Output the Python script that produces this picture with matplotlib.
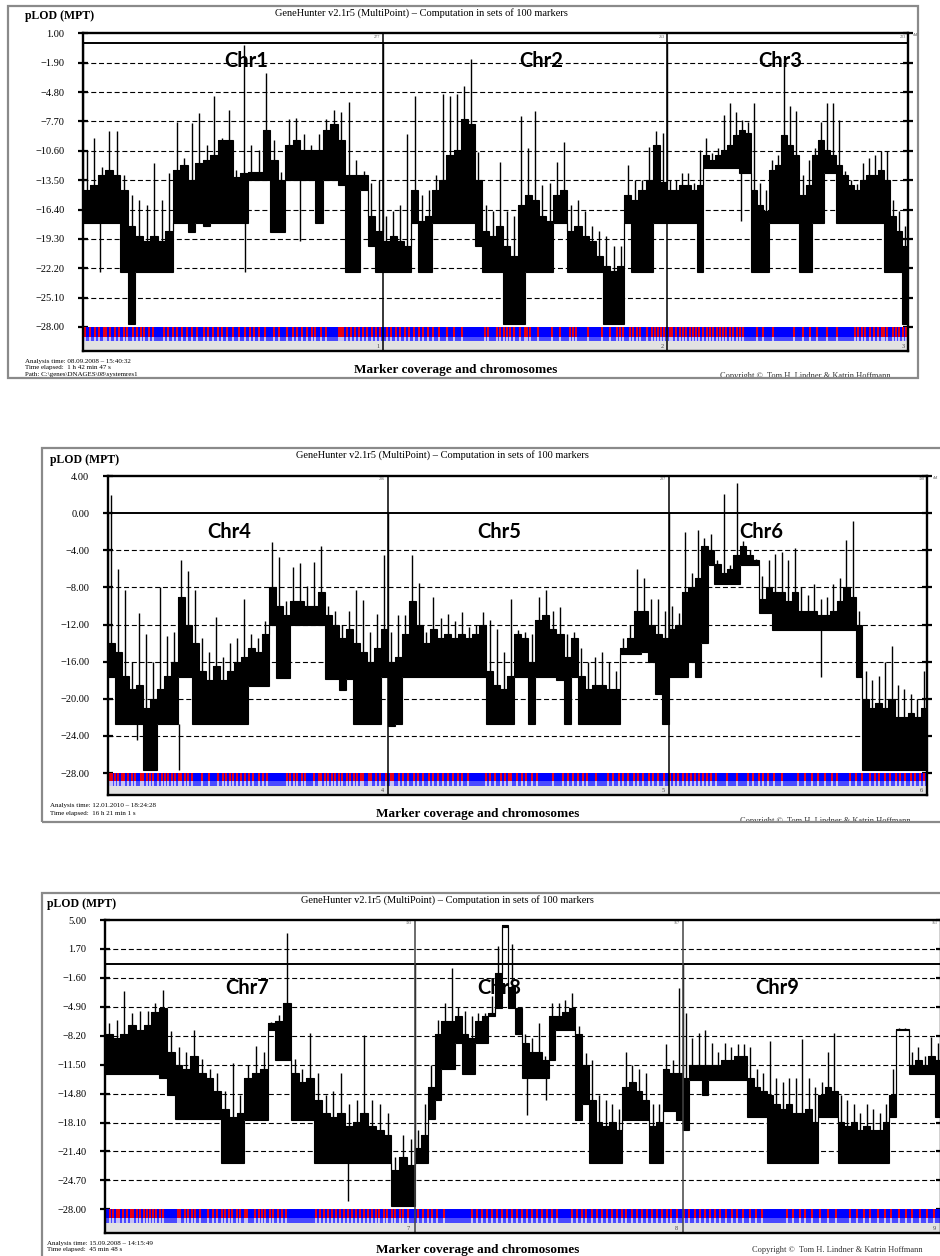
import numpy as np
import matplotlib
matplotlib.use('Agg')
import matplotlib.pyplot as plt
from matplotlib.patches import Rectangle

plt.rcParams['font.family'] = ['Liberation Serif', 'DejaVu Serif']
SANS = ['Lato', 'DejaVu Sans']
W, H = 940, 1256

# ---------------- data ----------------
# chromosome lengths in cM, per panel
p1_len = [277, 263, 223]
p2_len = [206, 207, 190]
p3_len = [193, 167, 161]

p1_ticks = [1.00, -1.90, -4.80, -7.70, -10.60, -13.50, -16.40, -19.30, -22.20, -25.10, -28.00]
p2_ticks = [4.00, 0.00, -4.00, -8.00, -12.00, -16.00, -20.00, -24.00, -28.00]
p3_ticks = [5.00, 1.70, -1.60, -4.90, -8.20, -11.50, -14.80, -18.10, -21.40, -24.70, -28.00]

# each chromosome: lo = bottom of dense trace, mid = top of dense trace, hi = spike tips
chr1_lo = [-17.7, -17.7, -17.7, -17.7, -17.7, -22.6, -27.7, -22.6, -22.6, -22.6,
           -22.6, -22.6, -17.7, -17.7, -18.6, -17.7, -18.0, -17.7, -17.7, -17.7,
           -17.7, -17.7, -13.5, -13.5, -13.5, -18.6, -18.6, -13.5, -13.5, -13.5,
           -13.5, -17.7, -13.5, -13.5, -14.0, -22.6, -22.6, -14.5, -20.0, -22.6]
chr1_mid = [-14.5, -14.0, -13.0, -12.5, -13.0, -14.5, -18.0, -19.0, -19.5, -19.0,
            -19.5, -18.5, -12.5, -12.0, -13.5, -11.8, -11.5, -11.0, -9.5, -9.5,
            -13.2, -12.8, -12.7, -12.7, -8.5, -11.5, -13.5, -10.0, -9.5, -10.5,
            -10.5, -10.5, -8.5, -8.0, -9.5, -13.0, -13.0, -13.0, -17.0, -18.5]
chr1_hi = [-10.5, -9.3, -12.2, -8.6, -8.6, -13.0, -15.0, -15.5, -16.0, -11.8,
           -15.5, -12.8, -7.8, -11.3, -7.9, -6.9, -10.0, -5.2, -9.3, -6.6,
           -12.5, -0.2, -10.0, -10.5, -2.9, -9.5, -12.7, -7.5, -7.4, -8.9,
           -10.0, -8.9, -7.5, -6.6, -6.8, -5.8, -11.5, -12.6, -13.8, -13.5]

chr2_lo = [-22.6, -22.6, -22.6, -22.6, -17.7, -22.6, -22.6, -17.7, -17.7, -17.7,
           -17.7, -17.7, -17.7, -20.0, -22.6, -22.6, -22.6, -27.7, -27.7, -27.7,
           -22.6, -22.6, -22.6, -22.6, -17.7, -17.7, -22.6, -22.6, -22.6, -22.6,
           -22.6, -27.7, -27.7, -27.7, -17.7, -22.6, -22.6, -22.6, -17.7, -17.7]
chr2_mid = [-19.5, -19.0, -19.5, -20.0, -14.5, -17.5, -17.0, -14.5, -13.5, -11.0,
            -10.5, -7.5, -8.0, -13.5, -18.5, -19.0, -18.0, -20.0, -21.0, -16.0,
            -15.0, -15.5, -17.0, -17.5, -15.0, -14.5, -18.5, -18.0, -19.0, -19.5,
            -21.0, -22.0, -22.5, -22.0, -15.0, -15.5, -14.5, -13.5, -10.0, -13.7]
chr2_hi = [-17.0, -16.5, -16.0, -8.9, -5.2, -15.0, -14.5, -13.0, -5.0, -5.2,
           -5.0, -4.2, -1.5, -10.7, -16.0, -16.5, -11.7, -16.5, -17.0, -7.2,
           -10.3, -6.7, -14.0, -13.8, -11.7, -9.7, -16.0, -15.5, -16.5, -18.0,
           -18.5, -19.0, -20.0, -20.0, -12.0, -13.5, -13.5, -10.2, -8.6, -8.8]

chr3_lo = [-17.7, -17.7, -17.7, -17.7, -17.7, -22.6, -12.3, -12.3, -12.3, -12.3,
           -12.3, -12.3, -12.8, -12.8, -22.6, -22.6, -22.6, -17.7, -17.7, -17.7,
           -17.7, -17.7, -22.6, -22.6, -17.7, -17.7, -12.8, -12.8, -17.7, -17.7,
           -17.7, -17.7, -17.7, -17.7, -17.7, -17.7, -22.6, -22.6, -22.6, -27.7]
chr3_mid = [-14.5, -14.5, -14.0, -14.0, -14.5, -14.0, -11.0, -11.5, -11.0, -10.5,
            -10.0, -9.0, -8.5, -8.8, -14.5, -16.0, -16.5, -12.5, -12.0, -9.0,
            -10.0, -11.0, -15.0, -14.0, -11.0, -9.5, -10.5, -11.0, -12.0, -13.0,
            -14.0, -14.5, -13.5, -13.0, -13.0, -12.5, -13.5, -17.0, -18.5, -20.0]
chr3_hi = [-13.5, -13.5, -12.8, -12.8, -13.8, -10.5, -9.3, -10.8, -10.3, -7.1,
           -5.9, -6.8, -7.6, -7.8, -5.9, -13.8, -14.5, -11.5, -11.0, -2.0,
           -6.2, -6.7, -13.0, -11.5, -10.3, -7.8, -5.9, -5.9, -7.6, -12.6,
           -13.5, -13.9, -11.8, -11.3, -11.0, -10.6, -10.6, -15.5, -16.5, -18.0]

chr4_lo = [-17.7, -22.7, -22.7, -22.7, -22.7, -27.7, -27.7, -22.7, -22.7, -22.7,
           -17.7, -17.7, -22.7, -22.7, -22.7, -22.7, -22.7, -22.7, -22.7, -22.7,
           -18.6, -18.6, -18.6, -12.1, -17.8, -17.8, -12.1, -12.1, -12.1, -12.1,
           -12.1, -17.9, -17.9, -19.1, -17.9, -22.7, -22.7, -22.7, -22.7, -17.7]
chr4_mid = [-14.0, -15.0, -17.5, -19.0, -18.5, -21.0, -20.0, -19.0, -17.5, -16.0,
            -9.0, -12.0, -14.0, -17.0, -18.0, -16.5, -18.0, -17.0, -16.0, -15.5,
            -14.5, -15.0, -13.0, -8.0, -10.0, -11.0, -9.5, -9.5, -10.0, -10.0,
            -8.5, -11.0, -12.0, -13.5, -12.5, -14.0, -15.0, -16.0, -14.5, -12.5]
chr4_hi = [2.0, -6.0, -8.3, -16.0, -10.8, -13.0, -16.0, -8.0, -13.2, -12.8,
           -5.1, -6.2, -8.3, -13.5, -15.0, -11.2, -15.5, -14.0, -13.5, -9.2,
           -13.0, -13.5, -11.6, -3.1, -4.7, -9.5, -5.8, -5.4, -7.8, -5.3,
           -3.5, -10.0, -10.5, -12.0, -10.5, -8.3, -9.4, -12.8, -10.9, -4.5]

chr5_lo = [-22.9, -22.7, -17.7, -17.7, -17.7, -17.7, -17.7, -17.7, -17.7, -17.7,
           -17.7, -17.7, -17.7, -17.7, -22.7, -22.7, -22.7, -22.7, -17.7, -17.7,
           -22.7, -17.7, -17.7, -17.7, -18.0, -22.7, -17.7, -22.7, -22.7, -22.7,
           -22.7, -22.7, -22.7, -15.2, -15.2, -15.2, -15.0, -16.0, -19.5, -22.7]
chr5_mid = [-16.0, -15.5, -13.0, -9.5, -12.0, -14.0, -12.5, -13.5, -13.0, -13.5,
            -13.0, -13.5, -13.0, -12.0, -17.0, -18.5, -19.0, -17.5, -13.0, -13.5,
            -16.0, -11.5, -11.0, -12.5, -13.0, -15.5, -13.5, -17.5, -19.0, -18.5,
            -18.5, -19.0, -19.0, -14.5, -13.5, -10.5, -10.5, -12.0, -13.0, -13.5]
chr5_hi = [-12.8, -11.0, -11.0, -4.5, -7.5, -12.8, -9.0, -11.3, -10.9, -11.6,
           -10.7, -12.3, -12.1, -10.6, -11.5, -12.5, -15.0, -9.2, -12.6, -12.8,
           -13.0, -9.0, -8.3, -10.5, -10.1, -13.0, -12.8, -14.5, -16.0, -15.5,
           -15.0, -16.0, -17.0, -13.5, -12.0, -6.0, -7.0, -9.3, -9.3, -10.5]

chr6_lo = [-17.7, -17.7, -17.7, -16.0, -17.7, -14.0, -5.6, -7.6, -7.6, -7.6,
           -7.6, -5.6, -5.6, -5.6, -10.8, -10.8, -12.6, -12.6, -12.6, -12.6,
           -12.6, -12.6, -12.6, -12.6, -12.6, -12.6, -12.6, -12.6, -12.6, -17.7,
           -27.7, -27.7, -27.7, -27.7, -27.7, -27.7, -27.7, -27.7, -27.7, -27.7]
chr6_mid = [-12.5, -12.0, -8.5, -8.0, -7.0, -3.5, -4.0, -5.5, -6.5, -6.0,
            -4.5, -3.5, -4.5, -5.0, -9.2, -8.0, -8.5, -8.5, -9.5, -8.5,
            -10.5, -10.5, -10.5, -11.0, -11.0, -10.5, -9.5, -8.0, -9.0, -12.0,
            -20.0, -21.0, -20.5, -21.0, -20.0, -22.0, -22.0, -21.5, -22.0, -21.0]
chr6_hi = [-10.0, -10.8, -2.0, -6.5, -1.8, -2.7, -2.2, -5.0, 2.1, -5.6,
           3.2, -3.0, -4.0, -4.9, -6.8, -5.1, -4.4, -4.2, -5.0, -3.8,
           -8.0, -8.8, -7.6, -9.2, -9.0, -7.6, -7.0, -2.9, -0.9, -10.5,
           -17.0, -18.0, -17.5, -16.0, -14.3, -18.5, -19.0, -19.5, -20.0, -17.0]

chr7_lo = [-12.6, -12.6, -12.6, -12.6, -12.6, -12.6, -12.6, -13.0, -15.0, -17.7,
           -17.7, -17.7, -17.7, -17.7, -17.7, -22.7, -22.7, -22.7, -17.8, -17.8,
           -17.8, -7.5, -11.0, -11.0, -17.8, -17.8, -17.8, -22.7, -22.7, -22.7,
           -22.7, -22.7, -22.7, -22.7, -22.7, -22.7, -22.7, -27.6, -27.6, -27.6]
chr7_mid = [-8.0, -8.5, -8.0, -7.0, -7.5, -7.0, -5.5, -5.0, -10.0, -11.5,
            -12.0, -10.5, -12.5, -13.0, -14.5, -16.5, -17.5, -17.0, -13.0, -12.5,
            -12.0, -6.8, -6.5, -4.5, -12.5, -13.5, -13.0, -15.5, -17.0, -17.5,
            -17.0, -18.5, -18.0, -17.0, -18.5, -19.0, -19.5, -23.5, -22.0, -23.0]
chr7_hi = [-6.7, -6.4, -3.1, -5.6, -5.4, -5.4, -4.5, -3.0, -7.7, -9.5,
           -10.0, -7.5, -10.8, -12.0, -12.5, -14.5, -11.3, -15.0, -11.5, -9.4,
           -10.0, -6.6, -5.8, 3.5, -10.9, -12.0, -7.9, -12.5, -15.0, -14.5,
           -12.5, -16.0, -15.5, -8.1, -15.5, -16.0, -17.0, -22.0, -19.5, -20.0]

chr8_lo = [-22.7, -22.7, -17.7, -15.5, -12.0, -12.0, -9.0, -12.6, -12.6, -9.0,
           -9.0, -6.0, -5.0, 4.2, -5.0, -8.0, -13.0, -13.0, -13.0, -13.0,
           -11.0, -7.5, -7.5, -7.5, -17.8, -16.0, -22.7, -22.7, -22.7, -22.7,
           -22.7, -17.8, -17.8, -17.8, -17.8, -22.7, -22.7, -16.8, -16.8, -17.8]
chr8_mid = [-21.0, -19.5, -14.0, -8.0, -6.5, -6.5, -6.0, -8.0, -8.5, -6.5,
            -6.0, -5.6, -1.0, 4.4, -2.6, -5.0, -9.0, -10.0, -10.0, -11.0,
            -6.0, -6.0, -5.5, -5.0, -8.0, -11.5, -15.5, -18.0, -18.5, -18.0,
            -19.0, -14.0, -13.5, -14.5, -15.5, -18.5, -18.0, -12.0, -12.5, -12.5]
chr8_hi = [-19.0, -16.0, -11.5, -6.4, -4.5, -0.5, -4.9, -5.4, -6.0, -5.6,
           -5.6, -3.7, 2.0, 4.4, 2.3, -4.9, -8.0, -8.5, -6.7, -10.5,
           -4.5, -4.5, -4.1, -3.3, -7.1, -10.2, -11.0, -15.0, -15.5, -16.0,
           -16.5, -10.0, -11.5, -12.0, -12.5, -16.0, -16.0, -9.2, -11.0, -2.8]

chr9_lo = [-19.0, -13.3, -13.3, -15.0, -13.3, -13.3, -13.3, -13.3, -13.3, -13.3,
           -17.5, -17.5, -17.5, -22.7, -22.7, -22.7, -22.7, -22.7, -22.7, -22.7,
           -22.7, -17.5, -17.5, -17.5, -22.7, -22.7, -22.7, -22.7, -22.7, -22.7,
           -22.7, -22.7, -17.5, -7.6, -7.6, -12.6, -12.6, -12.6, -12.6, -17.5]
chr9_mid = [-13.0, -11.5, -11.5, -11.5, -11.5, -11.5, -11.0, -11.0, -10.5, -10.5,
            -13.0, -14.0, -14.5, -15.0, -16.0, -16.5, -16.0, -17.0, -17.0, -16.5,
            -18.0, -15.0, -14.0, -14.5, -18.0, -18.5, -18.0, -19.0, -18.5, -19.0,
            -19.0, -18.0, -15.0, -7.4, -7.4, -11.5, -11.0, -11.5, -10.5, -11.0]
chr9_hi = [-5.6, -8.5, -7.9, -7.5, -9.0, -10.0, -9.0, -9.5, -9.2, -9.2,
           -9.5, -12.0, -12.5, -8.8, -13.0, -13.5, -13.0, -13.0, -8.6, -13.0,
           -14.0, -13.5, -10.0, -7.9, -15.0, -15.5, -16.0, -17.0, -16.0, -16.5,
           -17.0, -16.0, -12.0, -7.3, -7.3, -10.0, -9.5, -10.5, -8.3, -9.0]

# thin downward spikes: position (cM along the panel), bottom, top
p1_dip_x = [15.7, 150, 200.7, 609]
p1_dip_lo = [-22.6, -22.6, -19.5, -17.5]
p1_dip_hi = [-17.7, -17.7, -13.5, -12.8]
p2_dip_x = [21, 52.5, 525]
p2_dip_lo = [-24.4, -27.7, -17.7]
p2_dip_hi = [-22.7, -22.7, -12.6]
p3_dip_x = [151.4, 263, 275, 360]
p3_dip_lo = [-27.0, -17.2, -15.5, -19.0]
p3_dip_hi = [-22.7, -13.0, -13.0, -13.3]

# red marker stripes in the coverage bar (cM along the panel)
p1_red = [0, 2, 6.5, 11, 15, 19, 21, 25, 30, 33, 38, 41, 46, 50, 54, 56, 61, 65, 75, 79,
          83, 87, 92, 96, 101, 105, 112, 116, 120, 125, 129, 133, 139, 144, 150, 154, 158,
          163, 168, 177, 181, 189, 194, 198, 203, 207, 212, 215, 220, 225, 237, 239, 240,
          244, 248, 252, 255, 259, 263, 267, 271, 275, 281, 285, 289.5, 293, 298, 301.5,
          306, 311, 314, 319, 324, 329, 337, 343, 350.5, 372, 375, 383, 386, 389, 392, 395,
          399, 404, 409, 411, 413, 421, 434, 441, 450, 453, 456, 467, 480, 487, 494, 497,
          499, 506, 509, 512, 515, 522, 526, 529, 532, 535, 537, 540, 543, 545, 548, 552,
          555, 558, 561, 564, 567, 570, 573, 577, 580, 583, 586, 589, 592, 595, 598, 601,
          605, 608, 610, 623, 629, 638, 658, 666, 672, 679, 688, 697, 714, 717, 720, 723,
          728, 732, 735, 739, 741, 744, 749, 752, 755, 758, 761]
p2_red = [0, 1.5, 3, 5, 7, 10, 12, 15, 18, 20, 24, 26, 29, 31, 33, 37, 40, 42, 44, 47, 49,
          52, 54, 57, 59, 62, 69, 74, 81, 85, 87, 90, 92, 95, 98, 101, 104, 107, 111, 114,
          117, 132, 134, 137, 139, 143, 145, 152, 155, 157, 160, 162, 165, 167, 170, 172,
          176, 178, 181, 183, 186, 188, 192, 194, 197, 200, 205, 208, 210, 214, 217, 221,
          225, 228, 232, 236, 239, 243, 247, 250, 254, 258, 261, 265, 278, 281, 285, 289,
          292, 295, 297, 301, 305, 308, 312, 316, 328, 335, 339, 342, 346, 350, 353, 359,
          368, 372, 376, 379, 383, 387, 390, 394, 398, 401, 405, 409, 414, 417, 420, 423,
          426, 429, 432, 435, 438, 441, 444, 448, 456, 463, 471, 475, 479, 482, 486, 490,
          496, 508, 513, 518, 523, 528, 533, 537, 546, 551, 555, 561, 565, 568, 572, 576,
          580, 583, 587, 591, 594, 598, 601]
p3_red = [3, 5, 7.5, 9, 11, 14, 16, 17.5, 20, 22, 24, 26, 28, 30, 32, 34, 36, 45.5, 47, 50,
          52, 54, 56, 59, 64, 67, 70, 73, 75, 77, 79, 82, 84, 87, 88.5, 93.5, 96, 98, 100,
          103, 105, 108, 110, 113, 131.5, 134, 136.5, 139, 141.5, 144, 146.5, 149, 151.5,
          154, 156.5, 159, 161.5, 164, 166.5, 169, 171, 174, 176, 179, 181, 184, 186, 189,
          195, 198, 201, 204, 207, 211, 228.7, 231.8, 234.9, 238, 241, 244.2, 247.3, 250.5,
          253.6, 256.7, 259.8, 262.9, 266, 269.2, 272.3, 275.4, 278.5, 281.6, 291, 294, 297,
          300, 303.4, 306.5, 309.7, 312.8, 315.9, 319, 322, 325, 328.3, 331.5, 334.6, 337.7,
          340.8, 343.9, 347, 350, 353, 356.4, 361, 364, 368, 371, 374, 377, 380, 383, 387,
          391, 394, 397.5, 402, 406, 409.6, 425, 429, 433, 436, 440.5, 445.5, 450.5, 455.5,
          464, 468.5, 473, 477, 481.6, 486, 490, 494.7, 499, 503, 508, 512, 516.5]

TITLE = 'GeneHunter v2.1r5 (MultiPoint) \u2013 Computation in sets of 100 markers'
COPY = 'Copyright \u00a9  Tom H. Lindner & Katrin Hoffmann'

fig = plt.figure(figsize=(W / 100, H / 100), dpi=100)


def fx(x):
    return x / W


def fy(y):
    return 1 - y / H


def add_axes_px(l, t, r, b):
    return fig.add_axes([fx(l), fy(b), (r - l) / W, (b - t) / H])


def frame(x0, y0, x1, y1, **kw):
    fig.add_artist(Rectangle((fx(x0), fy(y1)), (x1 - x0) / W, (y1 - y0) / H,
                             transform=fig.transFigure, **kw))


def draw_chr(ax, start, length, lo, mid, hi):
    lo, mid, hi = np.asarray(lo), np.asarray(mid), np.asarray(hi)
    edges = np.linspace(start, start + length, len(lo) + 1)
    centers = (edges[:-1] + edges[1:]) / 2
    ax.stairs(mid, edges, baseline=lo, fill=True, color='black', lw=0, zorder=3)
    ax.stairs(mid, edges, color='black', lw=0.8, zorder=3)
    ax.stairs(lo, edges, color='black', lw=0.8, zorder=3)
    ax.vlines(centers, mid, hi, color='black', lw=1.0, zorder=3)


def panel(ax, lens, traces, ylim, ticks, bands, red, dips, div_color, top_labels, numbers):
    total = sum(lens)
    starts = np.concatenate([[0], np.cumsum(lens)[:-1]])
    ax.set_xlim(0, total)
    ax.set_ylim(*ylim)
    # dashed grid and threshold line
    for t in ticks[1:-1]:
        if t != 0:
            ax.axhline(t, color='black', lw=0.8, ls=(0, (4.5, 2.5)), zorder=1)
    ax.axhline(0, color='black', lw=1.4, zorder=2)
    for s, L, (lo, mid, hi) in zip(starts, lens, traces):
        draw_chr(ax, s, L, lo, mid, hi)
    ax.vlines(dips[0], dips[1], dips[2], color='black', lw=1.0, zorder=3)
    # marker coverage bar
    b1, b2 = bands
    ax.axhspan(b1, -28.0, color='#0000ff', lw=0, zorder=4)
    ax.axhspan(b2, b1, color='#4a4aff', lw=0, zorder=4)
    ax.axhspan(ylim[0], b2, color='#e2e2e2', lw=0, zorder=4)
    ax.vlines(red, b1, -28.0, color='#ff0000', lw=1.3, zorder=5)
    ax.vlines(red, b2, b1, color='#d4cef4', lw=1.3, zorder=5)
    # chromosome dividers
    for s in starts[1:]:
        ax.axvline(s, color=div_color, lw=1.1, zorder=6)
    for s, L, lab, num in zip(starts, lens, top_labels, numbers):
        ax.text(s + L - 2, ylim[1] - 0.15, lab, fontsize=3, color='#555555',
                ha='right', va='top', zorder=7)
        ax.text(s + L - 3, (ylim[0] + b2) / 2, num, fontsize=4.5, color='#444444',
                ha='right', va='center', zorder=7)
    ax.set_xticks([])
    ax.set_yticks(ticks)
    ax.set_yticklabels([('%.2f' % t).replace('-', '\u2212') for t in ticks], fontsize=7.5)
    ax.tick_params(axis='y', direction='inout', length=7, width=1.6, pad=10,
                   left=True, right=True, labelright=False)
    for sp in ax.spines.values():
        sp.set_linewidth(1.7)
        sp.set_zorder(8)


# ---------------- panel 1 ----------------
ax1 = add_axes_px(83, 33.3, 908, 351)
panel(ax1, p1_len,
      [(chr1_lo, chr1_mid, chr1_hi), (chr2_lo, chr2_mid, chr2_hi), (chr3_lo, chr3_mid, chr3_hi)],
      (-30.37, 1.0), p1_ticks, (-29.0, -29.4), p1_red, (p1_dip_x, p1_dip_lo, p1_dip_hi),
      'black', ['277', '263', '223'], ['1', '2', '3'])

# ---------------- panel 2 ----------------
ax2 = add_axes_px(108, 476, 927, 795)
panel(ax2, p2_len,
      [(chr4_lo, chr4_mid, chr4_hi), (chr5_lo, chr5_mid, chr5_hi), (chr6_lo, chr6_mid, chr6_hi)],
      (-30.37, 4.0), p2_ticks, (-28.9, -29.4), p2_red, (p2_dip_x, p2_dip_lo, p2_dip_hi),
      'black', ['206', '207', '190'], ['4', '5', '6'])

# ---------------- panel 3 ----------------
ax3 = add_axes_px(105, 920, 941, 1233)
panel(ax3, p3_len,
      [(chr7_lo, chr7_mid, chr7_hi), (chr8_lo, chr8_mid, chr8_hi), (chr9_lo, chr9_mid, chr9_hi)],
      (-30.7, 5.0), p3_ticks, (-29.0, -29.6), p3_red, (p3_dip_x, p3_dip_lo, p3_dip_hi),
      '#444444', ['193', '167', '161'], ['7', '8', '9'])

# ---------------- texts ----------------
chr_names = [('Chr1', 246, 61), ('Chr2', 541, 61), ('Chr3', 780, 61),
             ('Chr4', 229, 532), ('Chr5', 499, 532), ('Chr6', 761, 532),
             ('Chr7', 247, 988), ('Chr8', 499, 988), ('Chr9', 777, 988)]
for name, x, y in chr_names:
    fig.text(fx(x), fy(y), name, family=SANS, fontweight='bold', fontsize=14.5,
             ha='center', va='center', zorder=10)

for (px, py, tx, ty) in [(25, 16.5, 421, 13), (50, 460, 442, 455), (47, 904, 447, 900)]:
    fig.text(fx(px), fy(py), 'pLOD (MPT)', fontweight='bold', fontsize=8.5, ha='left', va='center')
    fig.text(fx(tx), fy(ty), TITLE, fontsize=7.5, ha='center', va='center')

footer = [(25, 361, 'Analysis time: 08.09.2008 \u2013 15:40:32', 'Time elapsed:  1 h 42 min 47 s', 456, 370, 720, 372, 'top'),
          (50, 806, 'Analysis time: 12.01.2010 \u2013 18:24:28', 'Time elapsed:  16 h 21 min 1 s', 478, 814, 740, 817, 'top'),
          (47, 1243, 'Analysis time: 15.09.2008 \u2013 14:15:49', 'Time elapsed:  45 min 48 s', 478, 1250, 752, 1249.5, 'center')]
for ax_, ay, a_txt, t_txt, mx, my, cx, cy, cva in footer:
    fig.text(fx(ax_), fy(ay), a_txt, fontsize=5, ha='left', va='center')
    fig.text(fx(ax_), fy(ay + 7), t_txt, fontsize=5, ha='left', va='center')
    fig.text(fx(mx), fy(my), 'Marker coverage and chromosomes', fontweight='bold',
             fontsize=9.5, ha='center', va='center')
    fig.text(fx(cx), fy(cy), COPY, fontsize=6, ha='left', va=cva, color='#333333')
fig.text(fx(25), fy(374.5), 'Path: C:\\genes\\DNAGES\\08\\systemres1', fontsize=5, ha='left', va='center')

fig.text(fx(913), fy(35), 'cM', fontsize=3, color='#555555', ha='left', va='center')
fig.text(fx(933), fy(478), 'cM', fontsize=3, color='#555555', ha='left', va='center')

# white masks hide text falling below the panel frames
frame(8, 378.5, 930, 395, facecolor='white', edgecolor='none', zorder=20)
frame(42, 822.5, 945, 840, facecolor='white', edgecolor='none', zorder=20)

# outer grey frames
frame(8, 6, 918, 378, fill=False, edgecolor='#8a8a8a', lw=1.6, zorder=21)
frame(42, 448, 960, 822, fill=False, edgecolor='#8a8a8a', lw=1.6, zorder=21)
frame(42, 893, 960, 1290, fill=False, edgecolor='#8a8a8a', lw=1.6, zorder=21)

fig.savefig('out.png', dpi=100, facecolor='white')
